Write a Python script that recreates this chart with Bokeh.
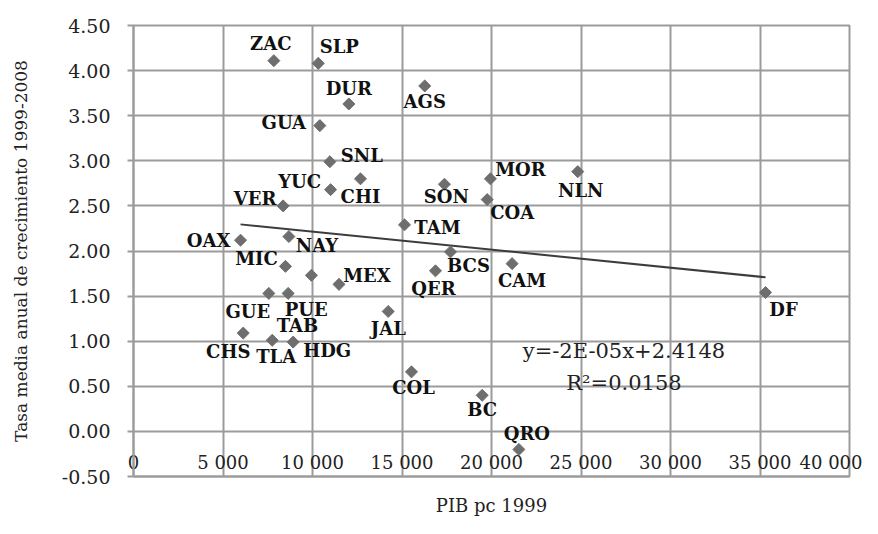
import math
import numpy as np
from bokeh.plotting import figure
from bokeh.models import (ColumnDataSource, Range1d, FixedTicker, LinearAxis,
                          NumeralTickFormatter, Label)
from bokeh.core.properties import value
from bokeh.embed import file_html
from bokeh.resources import INLINE

# ---------------- data ----------------
states = ["ZAC", "SLP", "DUR", "GUA", "AGS", "SNL", "CHI", "YUC", "SON", "MOR",
          "COA", "NLN", "VER", "TAM", "OAX", "NAY", "MIC", "TAB", "MEX", "BCS",
          "QER", "CAM", "DF", "GUE", "PUE", "JAL", "CHS", "TLA", "HDG", "COL",
          "BC", "QRO"]
pib_pc_1999 = [7840, 10320, 12030, 10410, 16270, 10970, 12680, 11010, 17370, 19940,
               19760, 24820, 8360, 15140, 5980, 8680, 8490, 9940, 11480, 17710,
               16870, 21150, 35310, 7560, 8640, 14230, 6130, 7750, 8920, 15530,
               19480, 21530]
tasa_crec = [4.11, 4.08, 3.63, 3.39, 3.83, 2.99, 2.80, 2.68, 2.74, 2.80,
             2.57, 2.88, 2.50, 2.29, 2.12, 2.16, 1.83, 1.73, 1.63, 1.99,
             1.78, 1.86, 1.54, 1.53, 1.53, 1.33, 1.09, 1.01, 0.99, 0.66,
             0.40, -0.20]
trend_slope = -2e-05
trend_intercept = 2.4148
equation_text = "y=-2E-05x+2.4148"
r2_text = "R\u00b2=0.0158"

x_ticks = [0, 5000, 10000, 15000, 20000, 25000, 30000, 35000, 40000]
x_tick_labels = ["0", "5 000", "10 000", "15 000", "20 000", "25 000",
                 "30 000", "35 000", "40 000"]
y_ticks = [-0.5, 0.0, 0.5, 1.0, 1.5, 2.0, 2.5, 3.0, 3.5, 4.0, 4.5]

# label placement (screen px offsets from each point)
label_dx = [-3, 21, 0, -36, 0, 32, 0, -31, 2, 30,
            25, 3, -28, 33, -32, 28, -29, -14, 28, 18,
            -2, 10, 18, -21, 18, 0, -15, 4, 34, 2,
            0, 8]
label_dy = [-17, -17, -15, -3, 16, -6, 18, -8, 12, -9,
            13, 19, -7, 3, 0, 9, -8, 50, -9, 14,
            18, 17, 17, 18, 16, 17, 18, 16, 8, 16,
            14, -16]

# ---------------- styles ----------------
GRID = "#9b9b9b"
MARK = "#6e6e6e"
SERIF = "DejaVu Serif"
TXT = "#222222"

p = figure(width=862, height=518, output_backend="svg", toolbar_location=None,
           x_range=Range1d(0, 40000), y_range=Range1d(-0.5, 4.5),
           min_border_left=133, min_border_right=13, min_border_top=25,
           min_border_bottom=42, x_axis_location=None, y_axis_location=None)
p.background_fill_color = "white"
p.border_fill_color = "white"
p.outline_line_color = GRID
p.outline_line_width = 2

# grids
p.xgrid.ticker = FixedTicker(ticks=x_ticks)
p.ygrid.ticker = FixedTicker(ticks=y_ticks)
for g in (p.xgrid, p.ygrid):
    g.grid_line_color = GRID
    g.grid_line_width = 2

# y axis
yaxis = LinearAxis(ticker=FixedTicker(ticks=y_ticks),
                   formatter=NumeralTickFormatter(format="0.00"),
                   axis_label="Tasa media anual de crecimiento 1999-2008")
yaxis.axis_line_color = GRID
yaxis.axis_line_width = 2
yaxis.major_tick_line_color = GRID
yaxis.major_tick_line_width = 2
yaxis.major_tick_out = 6
yaxis.major_tick_in = 0
yaxis.minor_tick_line_color = None
yaxis.major_label_standoff = 17
yaxis.major_label_text_font = SERIF
yaxis.major_label_text_font_size = "19px"
yaxis.major_label_text_color = TXT
yaxis.axis_label_text_font = SERIF
yaxis.axis_label_text_font_size = "17px"
yaxis.axis_label_text_font_style = "normal"
yaxis.axis_label_text_color = TXT
yaxis.axis_label_standoff = 28
p.add_layout(yaxis, "left")

# x axis: labels sit just under the y = 0 line, inside the plot area (Excel style)
xaxis = LinearAxis(ticker=FixedTicker(ticks=x_ticks), axis_label="PIB pc 1999")
xaxis.major_label_overrides = {t: s for t, s in zip(x_ticks, x_tick_labels)}
xaxis.axis_line_color = GRID
xaxis.axis_line_width = 2
xaxis.major_tick_line_color = None
xaxis.minor_tick_line_color = None
xaxis.major_tick_out = 0
xaxis.major_tick_in = 0
xaxis.major_label_standoff = -25
xaxis.major_label_text_font = SERIF
xaxis.major_label_text_font_size = "18px"
xaxis.major_label_text_color = TXT
xaxis.axis_label_standoff = 19
xaxis.axis_label_text_font = SERIF
xaxis.axis_label_text_font_size = "18px"
xaxis.axis_label_text_font_style = "normal"
xaxis.axis_label_text_color = TXT
p.add_layout(xaxis, "below")

# trend line
tx = np.array([min(pib_pc_1999), max(pib_pc_1999)], dtype=float)
ty = trend_intercept + trend_slope * tx
p.line(tx, ty, line_color="#3c3c3c", line_width=2)

src = ColumnDataSource(dict(x=pib_pc_1999, y=tasa_crec, name=states,
                            dx=label_dx, dy=label_dy))
p.scatter("x", "y", source=src, marker="square", size=8.5, angle=math.pi / 4,
          fill_color=MARK, line_color=MARK)
p.text("x", "y", text="name", source=src, x_offset="dx", y_offset="dy",
       text_font=value(SERIF), text_font_size="18px", text_font_style="bold",
       text_color="#111111", text_align="center", text_baseline="middle")

# regression equation
eq_x = 27400
p.add_layout(Label(x=eq_x, y=0.89, text=equation_text, text_align="center",
                   text_baseline="middle", text_font=SERIF, text_font_size="21px",
                   text_color=TXT))
p.add_layout(Label(x=eq_x, y=0.54, text=r2_text, text_align="center",
                   text_baseline="middle", text_font=SERIF, text_font_size="21px",
                   text_color=TXT))

open("out.html", "w").write(file_html(p, INLINE))
